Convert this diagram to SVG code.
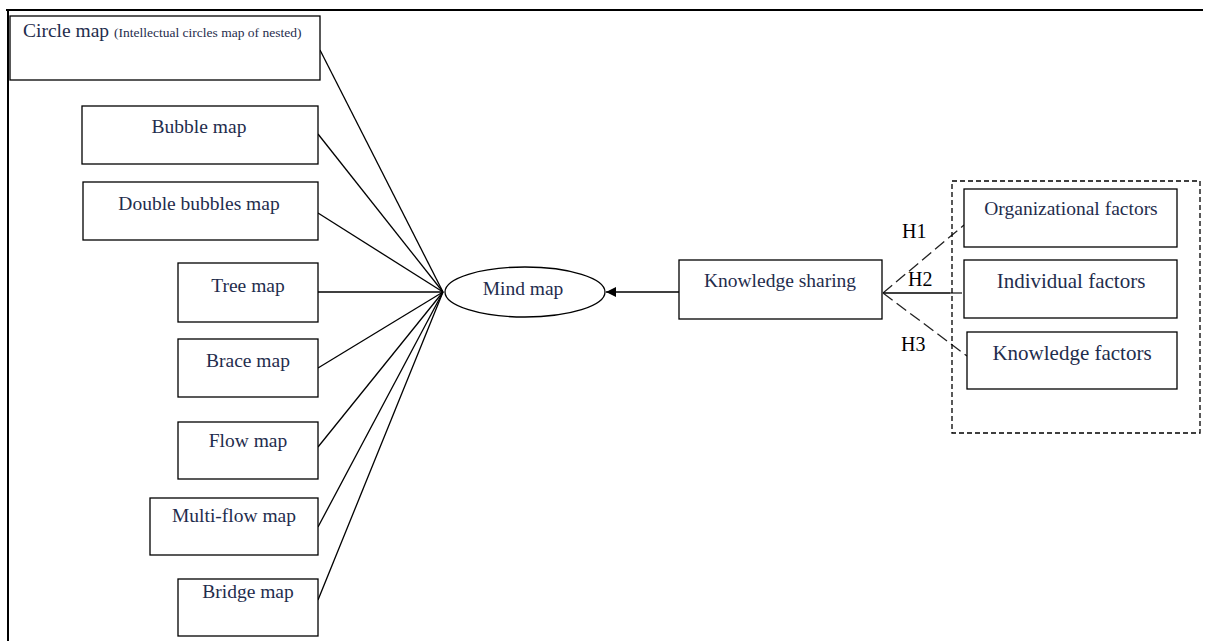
<svg xmlns="http://www.w3.org/2000/svg" width="1205" height="641" viewBox="0 0 1205 641">
<style>
.box{fill:#fff;stroke:#000;stroke-width:1.3}
.t{font-family:"Liberation Serif","DejaVu Serif",serif;font-size:19.5px;fill:#1f2d4d;text-anchor:middle}
.tb{font-size:21px}
.small{font-size:13.5px}
.h{font-family:"Liberation Serif","DejaVu Serif",serif;font-size:20px;fill:#000}
.ln{stroke:#000;stroke-width:1.3;fill:none}
.dl{stroke:#222;stroke-width:1.3;fill:none;stroke-dasharray:12 5}
</style>
<defs>
<marker id="ah" viewBox="0 0 10 10" refX="10" refY="5" markerWidth="10" markerHeight="10" markerUnits="userSpaceOnUse" orient="auto">
<path d="M0,0 L10,5 L0,10 Z" fill="#000"/>
</marker>
</defs>
<rect width="1205" height="641" fill="#fff"/>
<g id="frame">
<line x1="6" y1="10" x2="1203" y2="10" stroke="#000" stroke-width="2"/>
<line x1="8" y1="10" x2="8" y2="641" stroke="#000" stroke-width="2"/>
</g>
<g id="connectors">
<line class="ln" x1="320" y1="50" x2="443" y2="292"/>
<line class="ln" x1="318" y1="134" x2="443" y2="292"/>
<line class="ln" x1="318" y1="213" x2="443" y2="292"/>
<line class="ln" x1="318" y1="292" x2="443" y2="292"/>
<line class="ln" x1="318" y1="368" x2="443" y2="292"/>
<line class="ln" x1="318" y1="447" x2="443" y2="292"/>
<line class="ln" x1="318" y1="527" x2="443" y2="292"/>
<line class="ln" x1="318" y1="600" x2="443" y2="292"/>
<line class="ln" x1="679" y1="292" x2="606" y2="292" marker-end="url(#ah)"/>
<line class="dl" x1="883" y1="293" x2="964" y2="225"/>
<line class="ln" x1="883" y1="293" x2="950" y2="293"/>
<line class="dl" x1="950" y1="293" x2="964" y2="293" stroke-dasharray="5 3"/>
<line class="dl" x1="883" y1="293" x2="967" y2="356"/>
<text class="h" x="902" y="238">H1</text>
<text class="h" x="908" y="286">H2</text>
<text class="h" x="901" y="351">H3</text>
</g>
<g id="circle-map">
<rect class="box" x="10" y="16" width="310" height="64"/>
<text class="t" x="23" y="37" style="text-anchor:start">Circle map <tspan class="small">(Intellectual circles map of nested)</tspan></text>
</g>
<g id="bubble-map">
<rect class="box" x="82" y="106" width="236" height="58"/>
<text class="t" x="199" y="133">Bubble map</text>
</g>
<g id="double-bubbles-map">
<rect class="box" x="83" y="182" width="235" height="58"/>
<text class="t" x="199" y="210">Double bubbles map</text>
</g>
<g id="tree-map">
<rect class="box" x="178" y="263" width="140" height="59"/>
<text class="t" x="248" y="292">Tree map</text>
</g>
<g id="brace-map">
<rect class="box" x="178" y="339" width="140" height="58"/>
<text class="t" x="248" y="367">Brace map</text>
</g>
<g id="flow-map">
<rect class="box" x="178" y="422" width="140" height="57"/>
<text class="t" x="248" y="447">Flow map</text>
</g>
<g id="multi-flow-map">
<rect class="box" x="150" y="498" width="168" height="57"/>
<text class="t" x="234" y="522">Multi-flow map</text>
</g>
<g id="bridge-map">
<rect class="box" x="178" y="579" width="140" height="57"/>
<text class="t" x="248" y="598">Bridge map</text>
</g>
<g id="mind-map">
<ellipse class="box" cx="525" cy="292" rx="80" ry="25"/>
<text class="t" x="523" y="295">Mind map</text>
</g>
<g id="knowledge-sharing">
<rect class="box" x="679" y="260" width="203" height="59"/>
<text class="t" x="780" y="287">Knowledge sharing</text>
</g>
<g id="factors-group">
<rect x="952" y="181" width="248" height="252" fill="none" stroke="#000" stroke-width="1.3" stroke-dasharray="5 3"/>
</g>
<g id="organizational-factors">
<rect class="box" x="964" y="189" width="213" height="58"/>
<text class="t" x="1071" y="215">Organizational factors</text>
</g>
<g id="individual-factors">
<rect class="box" x="964" y="260" width="213" height="58"/>
<text class="t tb" x="1071" y="288">Individual factors</text>
</g>
<g id="knowledge-factors">
<rect class="box" x="967" y="332" width="210" height="57"/>
<text class="t tb" x="1072" y="360">Knowledge factors</text>
</g>
</svg>
